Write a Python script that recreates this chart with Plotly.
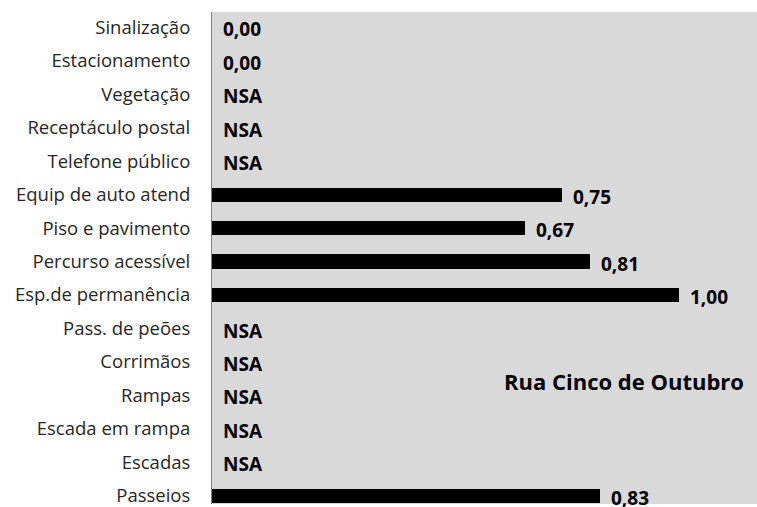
import plotly.graph_objects as go

# Categories from bottom to top
categories = ["Passeios", "Escadas", "Escada em rampa", "Rampas", "Corrimãos",
              "Pass. de peões", "Esp.de permanência", "Percurso acessível",
              "Piso e pavimento", "Equip de auto atend", "Telefone público",
              "Receptáculo postal", "Vegetação", "Estacionamento", "Sinalização"]
values = [0.83, None, None, None, None,
          None, 1.00, 0.81,
          0.67, 0.75, None,
          None, None, 0.00, 0.00]
value_labels = ["0,83", "NSA", "NSA", "NSA", "NSA",
                "NSA", "1,00", "0,81",
                "0,67", "0,75", "NSA",
                "NSA", "NSA", "0,00", "0,00"]
street = "Rua Cinco de Outubro"

FONT = "Open Sans"

fig = go.Figure()
fig.add_trace(go.Bar(
    y=categories,
    x=[v if v is not None else 0 for v in values],
    orientation="h",
    marker=dict(color="black", line=dict(width=0)),
    width=0.42,
    hoverinfo="skip",
))

for cat, v, lab in zip(categories, values, value_labels):
    fig.add_annotation(
        x=v if v is not None else 0, y=cat, text="<b>%s</b>" % lab,
        xanchor="left", yanchor="middle", xshift=9, yshift=-2,
        showarrow=False, font=dict(family=FONT, size=19, color="black"),
    )

fig.add_annotation(
    x=0.98, y=0.25, xref="paper", yref="paper", text="<b>%s</b>" % street,
    xanchor="right", yanchor="middle", showarrow=False,
    font=dict(family=FONT, size=22, color="black"),
)

fig.update_layout(
    width=757, height=507,
    margin=dict(l=212, r=0, t=12, b=0),
    paper_bgcolor="white",
    plot_bgcolor="#d9d9d9",
    showlegend=False,
    font=dict(family=FONT, size=19, color="#262626"),
    bargap=0,
)
fig.update_xaxes(range=[0, 1.167], showgrid=False, zeroline=False,
                 showticklabels=False, ticks="", showline=False)
fig.update_yaxes(type="category", categoryorder="array", categoryarray=categories,
                 range=[-0.24, 14.45], showgrid=False, zeroline=False,
                 showline=True, linecolor="#808080", linewidth=1,
                 ticks="", ticklabelstandoff=17,
                 tickfont=dict(family=FONT, size=18.5, color="#262626"))

fig.write_html(
    "out.html",
    config={"displayModeBar": False},
    post_script="document.body.style.margin='0';document.body.style.overflow='hidden';",
)
